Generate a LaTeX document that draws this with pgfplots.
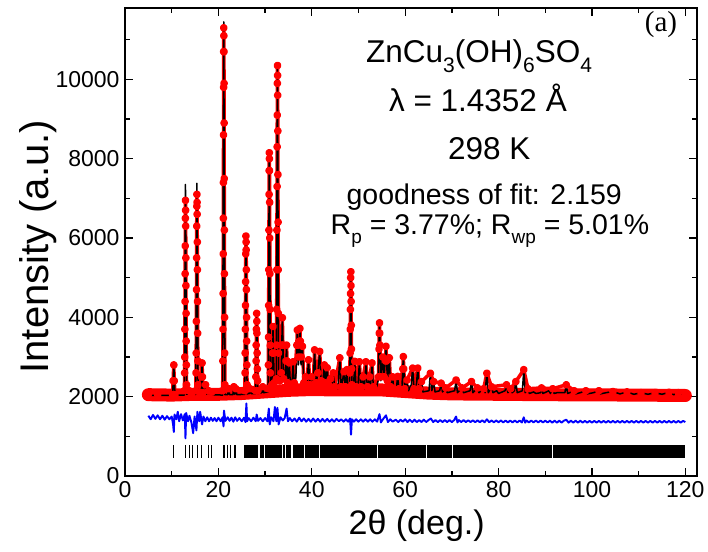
\documentclass[border=0pt]{standalone}
\usepackage{pgfplots}
\usepackage{pgfplotstable}
\pgfplotsset{compat=1.18}
\usepackage{fontspec}
\setmainfont{Liberation Sans}
\newfontfamily\seriffont{Liberation Serif}
\newcommand\sub[1]{\raisebox{-0.32em}{\fontsize{21pt}{21pt}\selectfont #1}}
\newcommand\subb[1]{\raisebox{-0.32em}{\fontsize{19pt}{19pt}\selectfont #1}}

\pgfplotstableread{
x y
5.0 2030
7.0 2030
10.2 2030
10.45 2800
10.7 2040
12.7 2040
12.95 7350
13.2 2060
13.75 2120
14.3 2060
15.15 2060
15.4 7380
15.65 2080
16.3 2080
16.5 2850
16.7 2080
17.1 2060
17.25 2300
17.4 2060
17.9 2120
18.1 2060
18.6 2100
18.8 2050
20.9 2040
21.15 11450
21.4 2050
22.0 2050
22.2 2200
22.4 2050
23.1 2050
23.3 2250
23.5 2060
23.75 2200
23.95 2050
25.65 2060
25.9 6050
26.15 2070
26.6 2080
26.8 2200
27.0 2080
27.95 2080
28.2 4100
28.45 2080
29.3 2100
29.5 2250
29.7 2100
30.65 2120
30.9 8100
31.15 2300
31.45 2250
31.7 3750
31.95 2300
32.4 2400
32.65 10400
32.9 2400
33.15 2350
33.45 2600
33.7 3980
34.0 2400
34.35 2500
34.6 3300
34.85 2300
35.2 2850
35.45 2200
35.75 2300
36.0 2880
36.25 2300
36.6 2500
36.9 3650
37.15 2800
37.45 3700
37.7 2800
38.0 3270
38.3 2300
38.7 2500
38.95 2250
39.3 2930
39.6 2250
40.0 2500
40.3 2250
40.6 3180
40.9 2300
41.3 2600
41.7 3140
42.0 2350
42.4 2400
42.7 2800
42.95 2300
43.3 2730
43.6 2250
44.0 2450
44.3 2300
44.6 2600
44.9 2200
45.3 2300
45.6 2200
46.0 2980
46.3 2200
46.9 2630
47.2 2200
47.5 2680
47.75 2150
48.1 2150
48.35 5150
48.6 2200
48.95 2250
49.2 2890
49.5 2200
49.9 2300
50.2 2880
50.5 2200
51.0 2500
51.3 2200
51.6 2880
51.9 2200
52.4 2500
52.6 2250
52.9 2850
53.2 2200
53.6 2300
53.9 2250
54.2 2400
54.5 3860
54.8 2400
55.2 3000
55.5 2500
55.9 3270
56.2 2400
56.6 2980
56.9 2200
57.3 2500
57.6 2150
58.1 2200
58.4 2510
58.7 2150
59.3 2200
59.6 3010
59.9 2200
60.4 2420
60.7 2150
61.3 2300
61.6 2720
61.9 2200
62.4 2300
62.7 2720
63.0 2200
63.5 2380
63.8 2120
65.1 2150
65.4 2590
65.7 2150
66.1 2380
66.4 2120
67.4 2150
67.7 2340
68.0 2120
68.7 2220
69.0 2100
70.6 2150
70.9 2420
71.2 2100
72.2 2220
72.5 2100
73.9 2150
74.2 2380
74.5 2100
75.5 2220
75.8 2100
76.8 2200
77.1 2100
77.5 2590
77.8 2100
78.5 2250
78.8 2100
79.6 2150
80.0 2080
81.4 2150
81.7 2300
82.0 2100
82.6 2200
82.9 2100
83.4 2150
83.7 2380
84.0 2100
85.1 2150
85.4 2680
85.7 2100
86.3 2200
86.6 2080
87.5 2120
88.0 2080
89.0 2100
89.2 2220
89.5 2080
90.8 2150
91.1 2080
91.6 2200
91.9 2080
92.5 2100
94.2 2100
94.5 2300
94.8 2080
96.2 2150
96.5 2070
97.5 2100
98.7 2150
99.0 2070
100.3 2100
101.5 2150
101.8 2070
103.0 2100
104.5 2130
106.0 2070
107.5 2120
109.0 2060
110.5 2100
112.0 2060
113.5 2100
115.0 2060
116.5 2110
117.5 2050
118.5 2100
120.0 2040
}\calc

\pgfplotstableread{
x y
5.0 2060
7.0 2050
10.2 2050
10.3 2400
10.45 2800
10.55 2400
10.7 2050
12.72 2150
12.77 2600
12.8 3000
12.83 3700
12.86 4400
12.88 5100
12.9 5800
12.93 6500
12.95 6950
12.98 6700
13.0 6300
13.03 5500
13.05 4800
13.08 4100
13.1 3400
13.14 2800
13.18 2300
13.75 2150
14.3 2080
15.17 2150
15.21 2600
15.25 3100
15.28 3900
15.31 4700
15.34 5500
15.36 6300
15.38 6800
15.4 7100
15.43 6900
15.45 6600
15.48 5900
15.5 5200
15.53 4400
15.56 3600
15.6 2900
15.64 2300
16.3 2100
16.4 2500
16.5 2850
16.6 2500
16.7 2100
17.25 2300
17.9 2150
18.6 2120
20.92 2150
20.96 2900
20.99 3700
21.02 4600
21.04 5600
21.06 6500
21.08 7400
21.1 8600
21.12 9800
21.14 10700
21.15 11300
21.17 11100
21.19 10700
21.21 9900
21.23 8900
21.25 7500
21.28 6200
21.3 5100
21.33 4000
21.36 3100
21.4 2300
22.2 2200
23.3 2250
23.75 2200
25.67 2150
25.71 2600
25.74 3100
25.77 3700
25.8 4300
25.83 4900
25.86 5600
25.9 6050
25.93 5900
25.95 5700
25.98 5200
26.0 4700
26.03 4000
26.06 3400
26.1 2800
26.14 2300
26.8 2200
27.98 2150
28.03 2500
28.07 2900
28.1 3300
28.14 3700
28.2 4100
28.23 3900
28.26 3600
28.3 3100
28.34 2700
28.4 2400
28.45 2150
29.5 2250
30.67 2200
30.71 2800
30.74 3500
30.77 4300
30.8 5200
30.83 6200
30.86 7100
30.88 7700
30.9 8150
30.93 8000
30.95 7700
30.98 6900
31.0 6000
31.03 5100
31.06 4200
31.1 3300
31.14 2600
31.45 2300
31.6 3100
31.7 3770
31.8 3100
31.95 2350
32.42 2450
32.46 3300
32.49 4200
32.52 5200
32.54 6200
32.57 7300
32.59 8300
32.61 9100
32.63 9900
32.66 10350
32.68 10100
32.7 9600
32.73 8700
32.75 7600
32.78 6400
32.81 5200
32.84 4100
32.88 3100
33.15 2400
33.45 2600
33.6 3300
33.7 3990
33.8 3300
34.0 2450
34.5 2900
34.6 3300
34.7 2900
34.85 2350
35.2 2850
35.45 2250
36.0 2880
36.25 2350
36.8 3300
36.9 3680
37.0 3300
37.15 3000
37.35 3400
37.45 3720
37.55 3400
37.7 3000
38.0 3270
38.3 2350
38.7 2500
38.95 2300
39.3 2930
39.6 2300
40.0 2500
40.3 2300
40.6 3180
40.9 2350
41.3 2600
41.7 3140
42.0 2400
42.7 2800
42.95 2350
43.3 2730
43.6 2300
44.0 2450
44.6 2600
44.9 2250
46.0 2980
46.3 2250
46.9 2630
47.2 2250
47.5 2680
47.75 2200
48.12 2200
48.16 2600
48.2 3100
48.24 3700
48.27 4200
48.3 4600
48.33 5000
48.37 5150
48.4 4800
48.42 4400
48.46 3800
48.49 3200
48.53 2700
48.58 2300
49.2 2890
49.5 2250
50.2 2880
50.5 2250
51.0 2500
51.6 2880
51.9 2250
52.4 2500
52.9 2850
53.2 2250
54.3 2500
54.4 3200
54.45 3600
54.5 3860
54.55 3600
54.6 3300
54.75 2500
55.2 3000
55.5 2500
55.8 2900
55.9 3270
56.0 2900
56.2 2400
56.6 2980
56.9 2250
57.3 2500
57.6 2200
58.4 2510
58.7 2200
59.5 2700
59.6 3010
59.7 2700
59.9 2200
60.4 2420
61.6 2720
61.9 2200
62.7 2720
63.0 2200
63.5 2380
65.4 2590
66.1 2380
67.7 2340
68.7 2220
70.9 2420
72.2 2220
74.2 2380
75.5 2220
76.8 2200
77.5 2590
78.5 2250
81.7 2300
82.6 2200
83.7 2380
85.4 2680
86.3 2200
89.2 2220
91.6 2200
94.5 2300
96.2 2150
98.7 2150
101.5 2150
104.5 2130
107.5 2120
110.5 2100
113.5 2100
116.5 2110
118.5 2100
120.0 2050
}\obs

\pgfplotstableread{
x y
5.0 2050
10.0 2040
15.0 2060
20.0 2060
25.0 2080
30.0 2120
35.0 2160
40.0 2180
45.0 2170
50.0 2170
55.0 2170
60.0 2130
65.0 2090
70.0 2070
80.0 2060
90.0 2050
100.0 2045
110.0 2040
120.0 2030
}\band

\pgfplotstableread{
x y
5.0 1520
5.5 1430
6.0 1540
6.5 1440
7.0 1530
7.5 1430
8.0 1520
8.5 1420
9.0 1510
9.5 1430
10.0 1500
10.3 1300
10.45 1110
10.6 1550
11.0 1430
11.3 1620
11.6 1380
12.0 1560
12.4 1400
12.8 1560
12.95 950
13.1 1590
13.5 1380
13.8 1520
14.2 1360
14.6 1080
14.9 1500
15.3 1150
15.5 1620
15.9 1380
16.1 1620
16.5 1300
16.8 1500
17.2 1380
17.6 1480
18.0 1380
18.4 1470
18.8 1390
19.2 1460
19.6 1380
20.0 1470
20.5 1380
20.9 1480
21.1 1250
21.2 1650
21.5 1390
22.0 1480
22.4 1390
22.8 1470
23.2 1370
23.6 1480
24.0 1390
24.5 1460
25.0 1380
25.5 1470
25.8 1360
26.0 1830
26.15 1380
26.5 1460
27.0 1380
27.5 1470
28.0 1380
28.2 1550
28.5 1390
29.0 1460
29.5 1380
30.0 1460
30.5 1380
30.8 1700
31.0 1300
31.3 1480
31.8 1380
32.1 1740
32.4 1380
32.65 1720
32.9 1300
33.3 1480
33.8 1400
34.2 1460
34.6 1700
34.9 1380
35.3 1460
35.8 1380
36.3 1450
36.8 1370
37.3 1470
37.8 1380
38.3 1450
38.8 1370
39.3 1440
39.8 1370
40.3 1450
40.8 1370
41.3 1440
41.8 1370
42.3 1440
42.8 1370
43.3 1440
43.8 1370
44.3 1430
44.8 1370
45.3 1440
45.8 1380
46.3 1430
46.8 1370
47.3 1430
47.8 1370
48.2 1450
48.4 1040
48.6 1430
49.0 1370
49.5 1430
50.0 1370
50.5 1430
51.0 1370
51.5 1430
52.0 1370
52.5 1430
53.0 1370
53.5 1430
54.0 1370
54.5 1560
54.8 1350
55.3 1440
55.9 1530
56.3 1360
56.8 1430
57.3 1370
58.0 1420
58.5 1360
59.0 1420
59.5 1370
60.0 1430
60.5 1360
61.0 1420
61.5 1360
62.0 1420
62.5 1360
63.0 1410
63.5 1360
64.0 1420
64.5 1360
65.0 1410
65.5 1450
66.0 1360
66.5 1410
67.0 1360
67.5 1410
68.0 1360
68.5 1410
69.0 1360
69.5 1410
70.0 1360
70.5 1410
70.9 1500
71.2 1350
71.5 1410
72.0 1360
72.5 1410
73.0 1360
73.5 1405
74.0 1360
74.5 1405
75.0 1355
75.5 1405
76.0 1355
76.5 1405
77.0 1355
77.5 1430
78.0 1355
78.5 1400
79.0 1355
79.5 1400
80.0 1355
80.5 1400
81.0 1350
81.5 1400
82.0 1350
82.5 1400
83.0 1350
83.5 1400
84.0 1350
84.5 1400
85.0 1350
85.4 1480
85.7 1345
86.0 1400
86.5 1350
87.0 1400
87.5 1350
88.0 1400
88.5 1350
89.0 1400
89.5 1350
90.0 1395
90.5 1350
91.0 1395
91.5 1345
92.0 1395
92.5 1345
93.0 1395
93.5 1345
94.0 1395
94.5 1420
95.0 1345
95.5 1395
96.0 1345
96.5 1395
97.0 1345
97.5 1395
98.0 1345
98.5 1390
99.0 1345
99.5 1390
100.0 1345
100.5 1390
101.0 1345
101.5 1390
102.0 1345
102.5 1390
103.0 1345
103.5 1390
104.0 1345
104.5 1390
105.0 1345
105.5 1390
106.0 1345
106.5 1390
107.0 1345
107.5 1390
108.0 1345
108.5 1390
109.0 1345
109.5 1390
110.0 1345
110.5 1390
111.0 1345
111.5 1390
112.0 1345
112.5 1390
113.0 1345
113.5 1390
114.0 1345
114.5 1390
115.0 1345
115.5 1390
116.0 1345
116.5 1390
117.0 1345
117.5 1390
118.0 1345
118.5 1390
119.0 1345
119.5 1390
120.0 1360
}\diff

\pgfplotstableread{
x y
10.45 620
12.9 620
13.75 620
14.45 620
15.45 620
16.45 620
17.85 620
18.55 620
21.2 620
21.9 620
22.65 620
23.55 620
25.5 620
25.75 620
25.95 620
26.2 620
26.45 620
26.65 620
26.9 620
27.15 620
27.35 620
27.6 620
27.85 620
28.05 620
28.3 620
29.0 620
29.3 620
29.5 620
29.75 620
30.0 620
30.2 620
30.45 620
30.7 620
30.9 620
31.2 620
31.45 620
31.7 620
31.95 620
32.2 620
32.45 620
32.65 620
32.9 620
33.15 620
33.4 620
34.0 620
34.25 620
34.5 620
34.75 620
35.0 620
35.25 620
35.5 620
}\bragg

\begin{document}
\begin{tikzpicture}
\path (0,0) rectangle (708pt,551pt);
\begin{axis}[
  at={(125pt,75pt)}, anchor=south west,
  scale only axis, width=572pt, height=468pt,
  xmin=0, xmax=122.5, ymin=0, ymax=11800,
  xtick={0,20,...,120}, minor xtick={10,30,...,110},
  ytick={0,2000,...,10000}, minor ytick={1000,3000,...,11000},
  scaled y ticks=false,
  /pgf/number format/1000 sep={},
  /pgf/number format/assume math mode=true,
  tick align=inside,
  major tick length=8pt, minor tick length=5pt,
  every tick/.style={black, line width=1.3pt},
  axis line style={line width=1.6pt},
  ticklabel style={font=\fontsize{23pt}{23pt}\selectfont},
  xticklabel style={yshift=-2pt},
  yticklabel style={xshift=-2pt},
  xlabel={2θ (deg.)},
  ylabel={Intensity (a.u.)},
  xlabel style={font=\fontsize{34pt}{34pt}\selectfont, at={(axis description cs:0.51,-0.107)}, anchor=center},
  ylabel style={font=\fontsize{40pt}{40pt}\selectfont, at={(axis description cs:-0.152,0.49)}, anchor=center},
  clip=false,
]
\addplot[red, line width=13pt, line cap=round, line join=round] table {\band};
\addplot[red, line width=3.5pt, line join=round, mark=*, mark size=2.1pt, mark options={fill=red, draw=red}] table {\obs};
\addplot[black, line width=1.5pt, line join=round] table {\calc};
\addplot[blue, line width=1.9pt, line join=round] table {\diff};
\addplot[black, only marks, mark=|, mark size=6.3pt, mark options={line width=1.1pt}] table {\bragg};
\addplot[black, line width=12.6pt] coordinates {(35.95,620) (38.4,620)};
\addplot[black, line width=12.6pt] coordinates {(38.6,620) (41.5,620)};
\addplot[black, line width=12.6pt] coordinates {(41.7,620) (49.8,620)};
\addplot[black, line width=12.6pt] coordinates {(50.0,620) (53.9,620)};
\addplot[black, line width=12.6pt] coordinates {(54.1,620) (64.4,620)};
\addplot[black, line width=12.6pt] coordinates {(64.6,620) (70.0,620)};
\addplot[black, line width=12.6pt] coordinates {(70.2,620) (91.5,620)};
\addplot[black, line width=12.6pt] coordinates {(91.7,620) (120.0,620)};

\begin{scope}[every node/.style={font=\fontsize{31.5pt}{31.5pt}\selectfont, anchor=base, inner sep=0pt}]
\node at (axis description cs:0.619,0.884) {ZnCu\sub{3}(OH)\sub{6}SO\sub{4}};
\node at (axis description cs:0.617,0.778) {λ = 1.4352 Å};
\node at (axis description cs:0.637,0.677) {298 K};
\node[font=\fontsize{28.5pt}{28.5pt}\selectfont] at (axis description cs:0.628,0.581) {goodness of fit: 2.159};
\node[font=\fontsize{28.5pt}{28.5pt}\selectfont] at (axis description cs:0.638,0.517) {R\subb{p} = 3.77\%; R\subb{wp} = 5.01\%};
\node[font=\seriffont\fontsize{29pt}{29pt}\selectfont] at (axis description cs:0.937,0.949) {(a)};
\end{scope}
\end{axis}
\end{tikzpicture}
\end{document}
